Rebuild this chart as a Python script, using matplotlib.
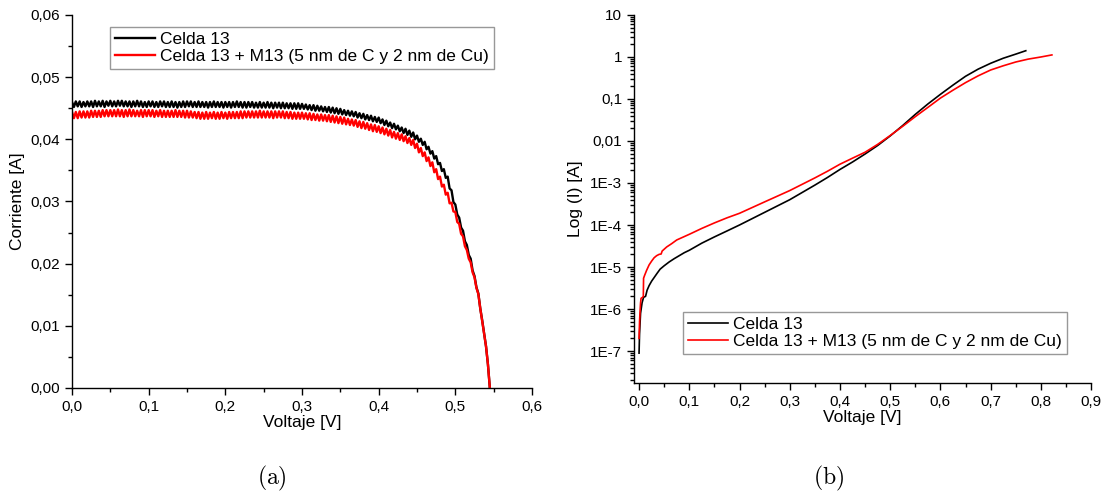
import numpy as np
import matplotlib
matplotlib.use("Agg")
import matplotlib.pyplot as plt
from matplotlib.ticker import FuncFormatter, MultipleLocator, FixedLocator, FixedFormatter, LogLocator, NullFormatter

# (a) curva I-V, barrido de 0 a 0,545 V con paso 0,0025 V, corriente en unidades de 1E-4 A
paso_barrido = 0.0025
celda_13 = [
    460, 452, 461, 453, 461, 452, 460, 453, 461, 453,
    461, 452, 462, 453, 461, 453, 462, 452, 461, 454,
    462, 453, 461, 453, 462, 454, 462, 453, 461, 453,
    461, 452, 461, 453, 462, 453, 461, 452, 460, 452,
    461, 453, 461, 452, 460, 452, 461, 453, 461, 452,
    460, 452, 461, 452, 460, 451, 460, 452, 461, 452,
    461, 453, 461, 452, 460, 452, 461, 452, 460, 452,
    460, 451, 460, 452, 461, 452, 460, 452, 460, 451,
    460, 452, 460, 451, 460, 452, 461, 452, 460, 451,
    460, 451, 460, 452, 460, 451, 459, 451, 460, 451,
    459, 451, 460, 451, 459, 450, 459, 451, 459, 450,
    459, 450, 458, 450, 458, 449, 458, 449, 458, 449,
    457, 449, 456, 448, 455, 447, 455, 446, 454, 446,
    453, 445, 452, 444, 452, 443, 451, 442, 450, 441,
    449, 440, 447, 439, 446, 438, 445, 437, 444, 435,
    442, 434, 441, 432, 439, 431, 438, 429, 436, 428,
    435, 426, 432, 423, 430, 421, 427, 418, 425, 416,
    422, 413, 419, 410, 417, 407, 414, 404, 411, 400,
    406, 396, 401, 391, 396, 384, 388, 377, 381, 369,
    373, 360, 362, 349, 352, 338, 340, 321, 318, 299,
    295, 279, 274, 258, 253, 236, 230, 214, 208, 189,
    180, 162, 152, 128, 109, 88, 67, 38, 0,
]
celda_13_m13 = [
    444, 434, 444, 434, 445, 435, 445, 435, 445, 435,
    446, 436, 446, 436, 446, 436, 447, 437, 447, 437,
    447, 437, 447, 437, 448, 437, 447, 436, 447, 437,
    448, 437, 447, 437, 446, 437, 447, 436, 447, 437,
    447, 437, 447, 436, 446, 437, 447, 436, 446, 436,
    446, 436, 446, 436, 447, 436, 446, 436, 446, 435,
    446, 435, 445, 435, 444, 434, 444, 433, 443, 433,
    444, 433, 443, 434, 444, 433, 443, 433, 444, 434,
    443, 433, 444, 434, 444, 434, 444, 434, 445, 434,
    445, 435, 445, 435, 445, 435, 445, 435, 446, 435,
    445, 435, 445, 435, 445, 434, 445, 435, 445, 435,
    445, 434, 444, 434, 444, 433, 443, 433, 443, 433,
    443, 433, 442, 432, 442, 431, 441, 431, 440, 430,
    440, 430, 439, 429, 439, 428, 438, 427, 437, 426,
    436, 425, 435, 424, 433, 423, 432, 422, 431, 420,
    429, 418, 428, 417, 426, 415, 424, 413, 423, 412,
    421, 410, 419, 408, 417, 406, 415, 403, 412, 401,
    410, 399, 408, 397, 405, 394, 402, 391, 399, 386,
    393, 379, 386, 373, 379, 365, 371, 357, 363, 347,
    352, 336, 340, 324, 327, 311, 314, 297, 298, 284,
    283, 267, 264, 248, 244, 228, 222, 208, 202, 186,
    178, 161, 151, 128, 108, 88, 67, 38, 0,
]

# (b) curva en oscuro, escala log
v_celda_13 = [0.0, 0.001, 0.003, 0.006, 0.009, 0.013, 0.016, 0.02, 0.025, 0.03,
              0.036, 0.042, 0.05, 0.06, 0.07, 0.08, 0.09, 0.1, 0.125, 0.15,
              0.175, 0.2, 0.25, 0.3, 0.35, 0.375, 0.4, 0.425, 0.45, 0.475,
              0.5, 0.525, 0.55, 0.575, 0.6, 0.625, 0.65, 0.675, 0.7, 0.725,
              0.75, 0.77]
i_celda_13 = [8.9e-8, 2.6e-7, 7.9e-7, 1.4e-6, 1.9e-6, 2.0e-6, 2.8e-6, 3.6e-6, 4.6e-6, 5.6e-6,
              7.1e-6, 8.9e-6, 1.07e-5, 1.32e-5, 1.58e-5, 1.86e-5, 2.19e-5, 2.5e-5, 3.7e-5, 5.2e-5,
              7.2e-5, 1.0e-4, 2.0e-4, 4.0e-4, 8.9e-4, 1.35e-3, 2.1e-3, 3.16e-3, 4.9e-3, 7.8e-3,
              1.32e-2, 2.34e-2, 4.3e-2, 7.6e-2, 0.129, 0.214, 0.347, 0.513, 0.708, 0.933,
              1.17, 1.41]
v_celda_13_m13 = [0.0, 0.001, 0.002, 0.003, 0.004, 0.007, 0.0085, 0.009, 0.011, 0.015,
                  0.02, 0.025, 0.03, 0.035, 0.04, 0.044, 0.046, 0.055, 0.065, 0.075,
                  0.1, 0.125, 0.15, 0.175, 0.2, 0.25, 0.3, 0.35, 0.375, 0.4,
                  0.425, 0.45, 0.475, 0.5, 0.525, 0.55, 0.575, 0.6, 0.625, 0.65,
                  0.675, 0.7, 0.725, 0.75, 0.775, 0.8, 0.822]
i_celda_13_m13 = [2.0e-7, 5.0e-7, 8.9e-7, 1.4e-6, 1.8e-6, 1.9e-6, 2.0e-6, 5.4e-6, 6.3e-6, 8.3e-6,
                  1.12e-5, 1.38e-5, 1.66e-5, 1.86e-5, 2.0e-5, 2.04e-5, 2.4e-5, 3.0e-5, 3.6e-5, 4.4e-5,
                  6.0e-5, 8.3e-5, 1.12e-4, 1.48e-4, 1.9e-4, 3.55e-4, 6.6e-4, 1.32e-3, 1.9e-3, 2.8e-3,
                  3.9e-3, 5.4e-3, 8.3e-3, 1.35e-2, 2.24e-2, 3.8e-2, 6.3e-2, 0.105, 0.162, 0.245,
                  0.355, 0.49, 0.617, 0.76, 0.891, 1.0, 1.12]

etiquetas = ["Celda 13", "Celda 13 + M13 (5 nm de C y 2 nm de Cu)"]
decadas = [1e-7, 1e-6, 1e-5, 1e-4, 1e-3, 0.01, 0.1, 1, 10]
decadas_txt = ["1E-7", "1E-6", "1E-5", "1E-4", "1E-3", "0,01", "0,1", "1", "10"]

plt.rcParams["font.family"] = ["Liberation Sans", "DejaVu Sans"]
plt.rcParams["mathtext.fontset"] = "cm"


def coma(fmt):
    return FuncFormatter(lambda v, p: format(v, fmt).replace(".", ","))


def estilo(ax):
    ax.spines["top"].set_visible(False)
    ax.spines["right"].set_visible(False)
    for s in ("left", "bottom"):
        ax.spines[s].set_linewidth(1.0)
    ax.tick_params(which="both", direction="out", labelsize=11, width=1.0)
    ax.tick_params(which="major", length=5)
    ax.tick_params(which="minor", length=3)


def leyenda(ax, x, y):
    leg = ax.legend(loc="upper left", bbox_to_anchor=(x / 1104, 1 - y / 493),
                    bbox_transform=fig.transFigure, fontsize=12.5, frameon=True, fancybox=False,
                    borderaxespad=0, borderpad=0.28, labelspacing=0.12, handlelength=2.3,
                    handletextpad=0.3)
    leg.get_frame().set_edgecolor("#7f7f7f")
    leg.get_frame().set_linewidth(1.0)


fig = plt.figure(figsize=(11.04, 4.93), dpi=100)

ax1 = fig.add_axes([0.0652, 0.213, 0.4167, 0.7566])
volt_a = np.arange(len(celda_13)) * paso_barrido
ax1.plot(volt_a, np.array(celda_13) * 1e-4, color="black", lw=1.7, label=etiquetas[0])
ax1.plot(volt_a, np.array(celda_13_m13) * 1e-4, color="red", lw=1.7, label=etiquetas[1])
ax1.set_xlim(0, 0.6)
ax1.set_ylim(0, 0.06)
ax1.xaxis.set_major_locator(MultipleLocator(0.1))
ax1.xaxis.set_minor_locator(MultipleLocator(0.05))
ax1.yaxis.set_major_locator(MultipleLocator(0.01))
ax1.yaxis.set_minor_locator(MultipleLocator(0.005))
ax1.xaxis.set_major_formatter(coma(".1f"))
ax1.yaxis.set_major_formatter(coma(".2f"))
estilo(ax1)
ax1.set_xlabel("Voltaje [V]", fontsize=12.5, labelpad=1)
ax1.set_ylabel("Corriente [A]", fontsize=12.5, labelpad=4)
leyenda(ax1, 110, 27)

ax2 = fig.add_axes([0.5743, 0.2231, 0.414, 0.7465])
ax2.plot(v_celda_13, i_celda_13, color="black", lw=1.2, label=etiquetas[0])
ax2.plot(v_celda_13_m13, i_celda_13_m13, color="red", lw=1.2, label=etiquetas[1])
ax2.set_yscale("log")
ax2.set_xlim(-0.01, 0.9)
ax2.set_ylim(1.73e-8, 10)
ax2.xaxis.set_major_locator(MultipleLocator(0.1))
ax2.xaxis.set_minor_locator(MultipleLocator(0.05))
ax2.xaxis.set_major_formatter(coma(".1f"))
ax2.yaxis.set_major_locator(FixedLocator(decadas))
ax2.yaxis.set_major_formatter(FixedFormatter(decadas_txt))
ax2.yaxis.set_minor_locator(LogLocator(base=10, subs=np.arange(2, 10), numticks=30))
ax2.yaxis.set_minor_formatter(NullFormatter())
estilo(ax2)
ax2.set_xlabel("Voltaje [V]", fontsize=12.5, labelpad=1)
ax2.set_ylabel("Log (I) [A]", fontsize=12.5, labelpad=5)
leyenda(ax2, 683, 312)

fig.text(272 / 1104, 1 - 478 / 493, r"$\mathrm{(a)}$", fontsize=17, ha="center", va="center")
fig.text(829 / 1104, 1 - 478 / 493, r"$\mathrm{(b)}$", fontsize=17, ha="center", va="center")

fig.savefig("out.png", dpi=100)
